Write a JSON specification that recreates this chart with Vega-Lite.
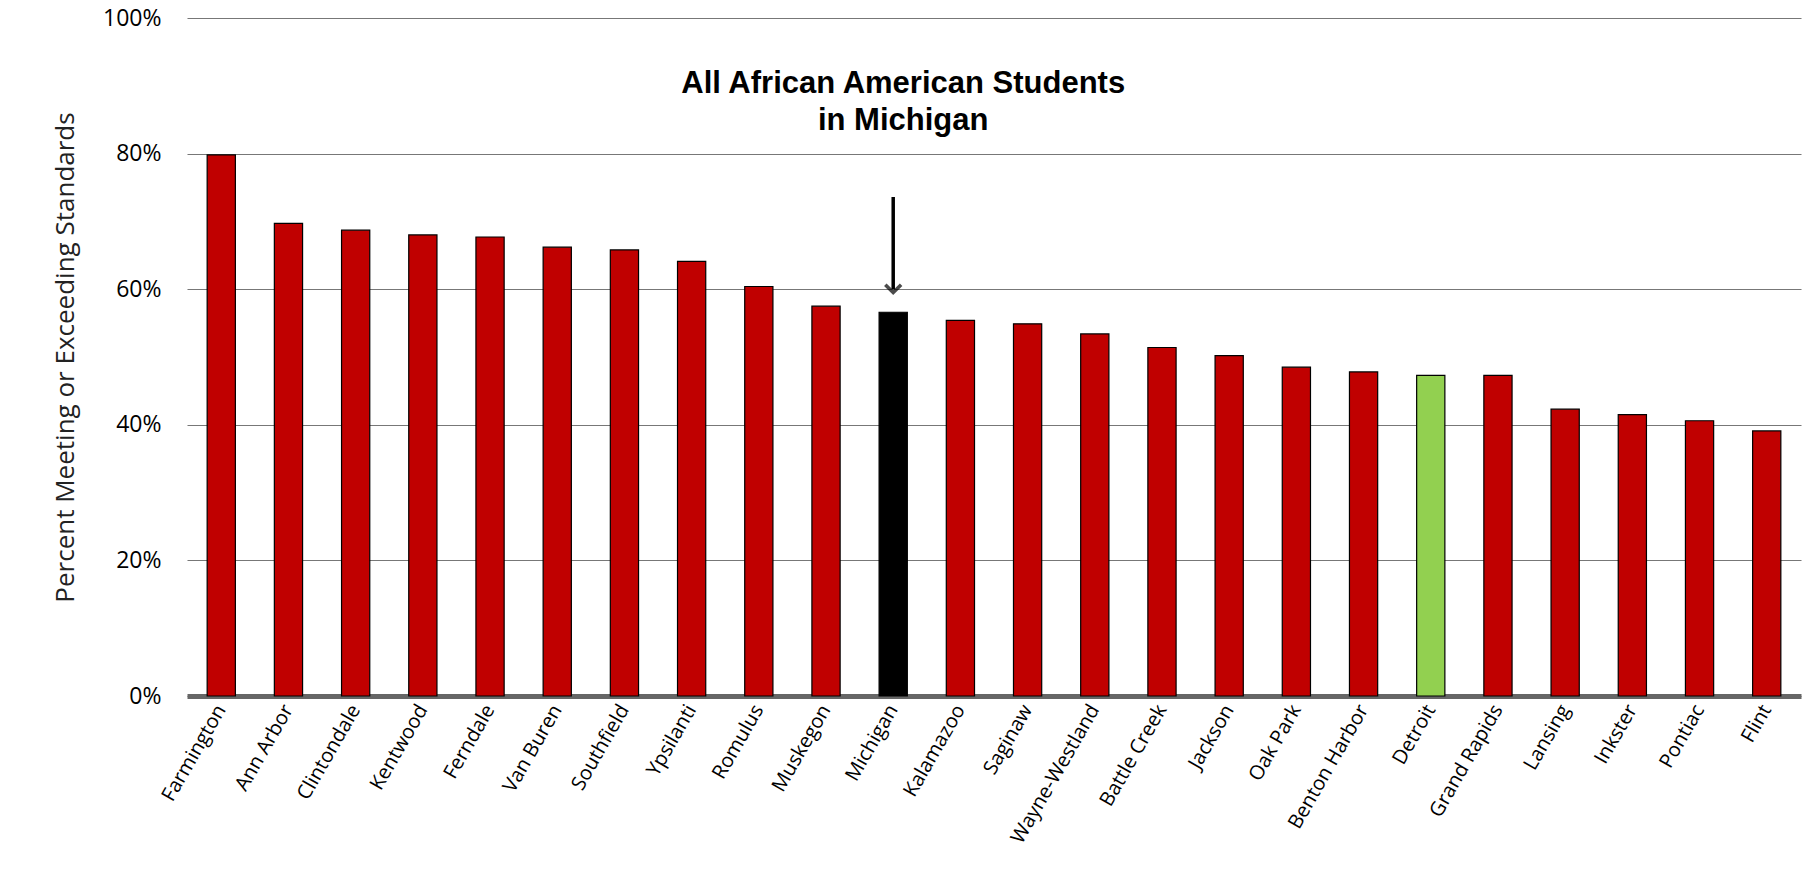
{
  "$schema": "https://vega.github.io/schema/vega-lite/v6.json",
  "width": 1614,
  "height": 678,
  "autosize": "none",
  "padding": {"left": 187, "top": 18, "right": 3, "bottom": 191},
  "background": "white",
  "config": {"view": {"stroke": null}, "font": "Open Sans"},
  "data": {"values": [
    {"district": "Farmington", "pct": 0.798, "kind": "d"},
    {"district": "Ann Arbor", "pct": 0.697, "kind": "d"},
    {"district": "Clintondale", "pct": 0.687, "kind": "d"},
    {"district": "Kentwood", "pct": 0.680, "kind": "d"},
    {"district": "Ferndale", "pct": 0.677, "kind": "d"},
    {"district": "Van Buren", "pct": 0.662, "kind": "d"},
    {"district": "Southfield", "pct": 0.658, "kind": "d"},
    {"district": "Ypsilanti", "pct": 0.641, "kind": "d"},
    {"district": "Romulus", "pct": 0.604, "kind": "d"},
    {"district": "Muskegon", "pct": 0.575, "kind": "d"},
    {"district": "Michigan", "pct": 0.566, "kind": "state"},
    {"district": "Kalamazoo", "pct": 0.554, "kind": "d"},
    {"district": "Saginaw", "pct": 0.549, "kind": "d"},
    {"district": "Wayne-Westland", "pct": 0.534, "kind": "d"},
    {"district": "Battle Creek", "pct": 0.514, "kind": "d"},
    {"district": "Jackson", "pct": 0.502, "kind": "d"},
    {"district": "Oak Park", "pct": 0.485, "kind": "d"},
    {"district": "Benton Harbor", "pct": 0.478, "kind": "d"},
    {"district": "Detroit", "pct": 0.473, "kind": "detroit"},
    {"district": "Grand Rapids", "pct": 0.473, "kind": "d"},
    {"district": "Lansing", "pct": 0.423, "kind": "d"},
    {"district": "Inkster", "pct": 0.415, "kind": "d"},
    {"district": "Pontiac", "pct": 0.406, "kind": "d"},
    {"district": "Flint", "pct": 0.391, "kind": "d"}
  ]},
  "encoding": {
    "x": {"field": "district", "type": "nominal", "sort": null,
      "scale": {"paddingInner": 0.58, "paddingOuter": 0.3},
      "axis": {"title": null, "labelAngle": -60, "labelFontSize": 20, "labelColor": "black",
        "ticks": false, "domainColor": "#666", "domainWidth": 5, "labelPadding": 10, "labelOverlap": false}}
  },
  "layer": [
    {
      "mark": {"type": "bar", "stroke": "black", "strokeWidth": 1.2},
      "encoding": {
        "y": {"field": "pct", "type": "quantitative", "scale": {"domain": [0, 1]},
          "axis": {"format": ".0%", "values": [0, 0.2, 0.4, 0.6, 0.8, 1], "labelOverlap": false,
            "title": "Percent Meeting or Exceeding Standards", "titleFontSize": 26,
            "titleFontWeight": "normal", "titleColor": "#222", "titlePadding": 24,
            "labelFontSize": 23, "labelColor": "black", "domain": false, "ticks": false,
            "labelPadding": 26, "gridColor": "#777", "gridWidth": 1.2}},
        "fill": {"field": "kind", "type": "nominal",
          "scale": {"domain": ["d", "state", "detroit"], "range": ["#c00000", "#000000", "#92d050"]},
          "legend": null}
      }
    },
    {
      "transform": [{"filter": "datum.kind == 'state'"}],
      "mark": {"type": "rule", "strokeWidth": 3.5, "color": "black"},
      "encoding": {"y": {"datum": 0.736, "type": "quantitative"}, "y2": {"datum": 0.6}}
    },
    {
      "transform": [{"filter": "datum.kind == 'state'"}],
      "mark": {"type": "point", "shape": "M-1,-1L0,0L1,-1", "filled": false, "stroke": "black", "strokeWidth": 3.5, "size": 250},
      "encoding": {"y": {"datum": 0.595, "type": "quantitative"}}
    },
    {
      "transform": [{"filter": "datum.kind == 'state'"}],
      "mark": {"type": "text", "font": "Liberation Sans", "fontWeight": "bold", "fontSize": 31, "color": "black", "dx": 10},
      "encoding": {"y": {"datum": 0.902, "type": "quantitative"}, "text": {"value": "All African American Students"}}
    },
    {
      "transform": [{"filter": "datum.kind == 'state'"}],
      "mark": {"type": "text", "font": "Liberation Sans", "fontWeight": "bold", "fontSize": 31, "color": "black", "dx": 10},
      "encoding": {"y": {"datum": 0.848, "type": "quantitative"}, "text": {"value": "in Michigan"}}
    }
  ]
}
